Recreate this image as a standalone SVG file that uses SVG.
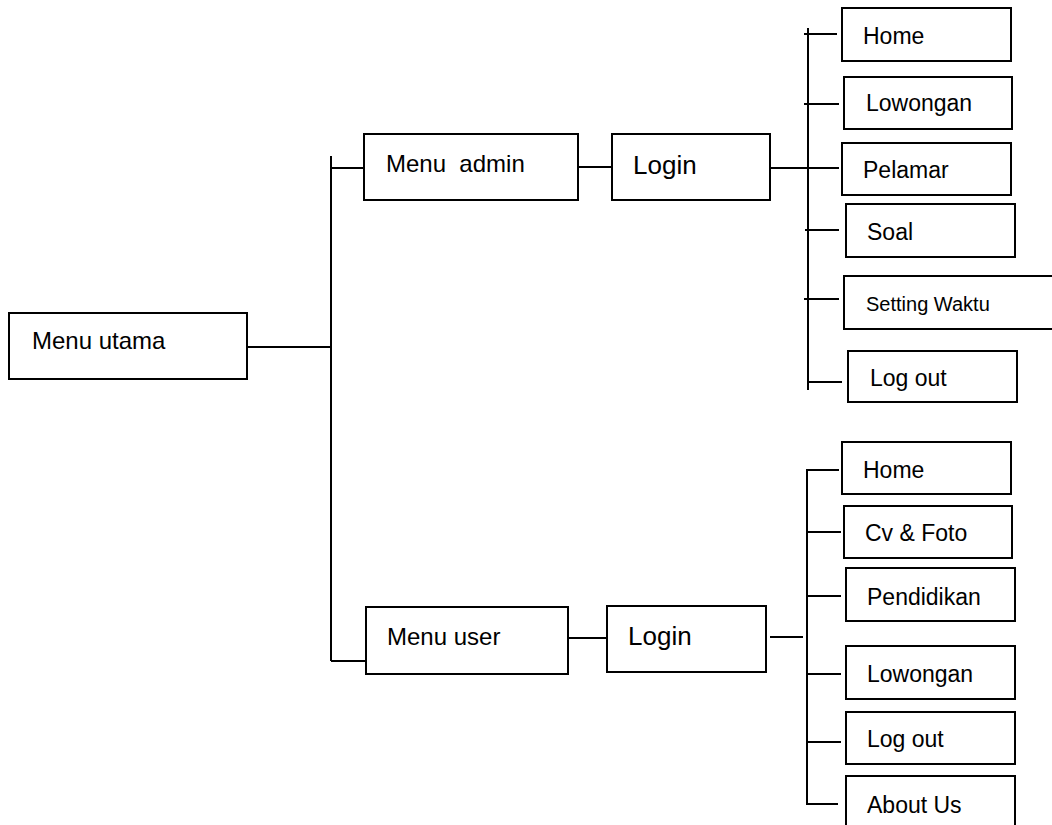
<svg xmlns="http://www.w3.org/2000/svg" width="1052" height="825" viewBox="0 0 1052 825">
  <style>
    .box { fill: #ffffff; stroke: #000000; stroke-width: 2; }
    .wire { fill: none; stroke: #000000; stroke-width: 2; }
    text { font-family: "Liberation Sans", Arial, sans-serif; fill: #000000; }
    .t24 { font-size: 24px; }
    .t26 { font-size: 26px; }
    .t23 { font-size: 23px; }
    .t20 { font-size: 20px; }
  </style>
  <rect width="1052" height="825" fill="#ffffff"/>

  <!-- connectors -->
  <g id="connectors" class="wire">
    <!-- main menu to the two branches -->
    <line x1="247" y1="347" x2="331" y2="347"/>
    <line x1="331" y1="156" x2="331" y2="661"/>
    <line x1="331" y1="168" x2="364" y2="168"/>
    <line x1="331" y1="661" x2="366" y2="661"/>
    <!-- admin chain -->
    <line x1="578" y1="167" x2="612" y2="167"/>
    <line x1="770" y1="168" x2="839" y2="168"/>
    <line x1="808" y1="28" x2="808" y2="390"/>
    <line x1="804" y1="34" x2="837" y2="34"/>
    <line x1="804" y1="104" x2="839" y2="104"/>
    <line x1="805" y1="230" x2="839" y2="230"/>
    <line x1="804" y1="299" x2="839" y2="299"/>
    <line x1="808" y1="382" x2="842" y2="382"/>
    <!-- user chain -->
    <line x1="568" y1="638" x2="607" y2="638"/>
    <line x1="770" y1="637" x2="803" y2="637"/>
    <path d="M839 470 H807 V804 H838"/>
    <line x1="807" y1="532" x2="841" y2="532"/>
    <line x1="807" y1="596" x2="841" y2="596"/>
    <line x1="807" y1="674" x2="841" y2="674"/>
    <line x1="807" y1="742" x2="841" y2="742"/>
  </g>

  <g id="menu-utama">
    <rect class="box" x="9" y="313" width="238" height="66"/>
    <text class="t24" x="32" y="349">Menu utama</text>
  </g>

  <g id="menu-admin">
    <rect class="box" x="364" y="134" width="214" height="66"/>
    <text class="t24" x="386" y="172" xml:space="preserve">Menu  admin</text>
  </g>
  <g id="login-admin">
    <rect class="box" x="612" y="134" width="158" height="66"/>
    <text class="t26" x="633" y="174">Login</text>
  </g>

  <g id="admin-home">
    <rect class="box" x="842" y="8" width="169" height="53"/>
    <text class="t23" x="863" y="44">Home</text>
  </g>
  <g id="admin-lowongan">
    <rect class="box" x="844" y="77" width="168" height="52"/>
    <text class="t23" x="866" y="111">Lowongan</text>
  </g>
  <g id="admin-pelamar">
    <rect class="box" x="842" y="143" width="169" height="52"/>
    <text class="t23" x="863" y="178">Pelamar</text>
  </g>
  <g id="admin-soal">
    <rect class="box" x="846" y="204" width="169" height="53"/>
    <text class="t23" x="867" y="240">Soal</text>
  </g>
  <g id="admin-setting-waktu">
    <rect class="box" x="844" y="276" width="220" height="53"/>
    <text class="t20" x="866" y="311">Setting Waktu</text>
  </g>
  <g id="admin-logout">
    <rect class="box" x="848" y="351" width="169" height="51"/>
    <text class="t23" x="870" y="386">Log out</text>
  </g>

  <g id="menu-user">
    <rect class="box" x="366" y="607" width="202" height="67"/>
    <text class="t24" x="387" y="645">Menu user</text>
  </g>
  <g id="login-user">
    <rect class="box" x="607" y="606" width="159" height="66"/>
    <text class="t26" x="628" y="645">Login</text>
  </g>

  <g id="user-home">
    <rect class="box" x="842" y="442" width="169" height="52"/>
    <text class="t23" x="863" y="478">Home</text>
  </g>
  <g id="user-cv-foto">
    <rect class="box" x="844" y="506" width="168" height="52"/>
    <text class="t23" x="865" y="541">Cv &amp; Foto</text>
  </g>
  <g id="user-pendidikan">
    <rect class="box" x="846" y="568" width="169" height="53"/>
    <text class="t23" x="867" y="605">Pendidikan</text>
  </g>
  <g id="user-lowongan">
    <rect class="box" x="846" y="646" width="169" height="53"/>
    <text class="t23" x="867" y="682">Lowongan</text>
  </g>
  <g id="user-logout">
    <rect class="box" x="846" y="712" width="169" height="52"/>
    <text class="t23" x="867" y="747">Log out</text>
  </g>
  <g id="user-about">
    <rect class="box" x="846" y="776" width="169" height="70"/>
    <text class="t23" x="867" y="813">About Us</text>
  </g>
</svg>
